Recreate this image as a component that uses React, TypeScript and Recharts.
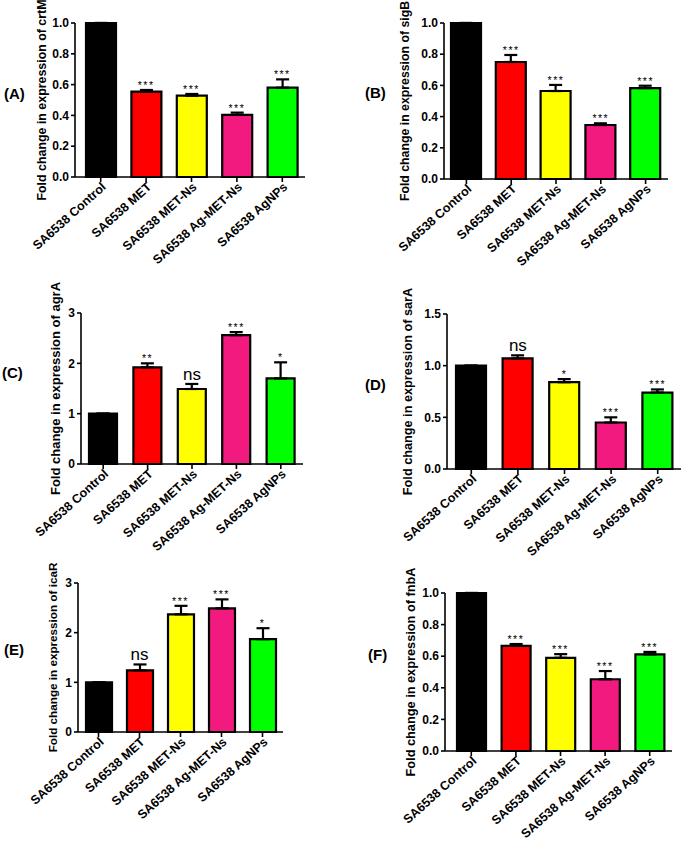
import React from "react";
import { Bar, Cell, ComposedChart, ErrorBar, Line, XAxis, YAxis } from "recharts";

// groups (x categories), shared by all six panels
const CATEGORIES = [
  "SA6538 Control",
  "SA6538 MET",
  "SA6538 MET-Ns",
  "SA6538 Ag-MET-Ns",
  "SA6538 AgNPs",
];
const BAR_COLORS = ["#000000", "#FF0000", "#FFFF00", "#F2197F", "#00FF00"];

// (A) crtM
const CRTM_MEAN = [1.0, 0.554, 0.528, 0.403, 0.58];
const CRTM_SD = [0, 0.011, 0.011, 0.015, 0.054];
const CRTM_SIG = ["", "***", "***", "***", "***"];
const CRTM_TICKS = [0, 0.2, 0.4, 0.6, 0.8, 1.0];

// (B) sigB
const SIGB_MEAN = [1.0, 0.75, 0.564, 0.346, 0.583];
const SIGB_SD = [0, 0.045, 0.039, 0.011, 0.015];
const SIGB_SIG = ["", "***", "***", "***", "***"];
const SIGB_TICKS = [0, 0.2, 0.4, 0.6, 0.8, 1.0];

// (C) agrA
const AGRA_MEAN = [1.0, 1.92, 1.49, 2.56, 1.7];
const AGRA_SD = [0, 0.08, 0.1, 0.06, 0.32];
const AGRA_SIG = ["", "**", "ns", "***", "*"];
const AGRA_TICKS = [0, 1, 2, 3];

// (D) sarA
const SARA_MEAN = [1.0, 1.07, 0.84, 0.45, 0.74];
const SARA_SD = [0, 0.03, 0.03, 0.05, 0.03];
const SARA_SIG = ["", "ns", "*", "***", "***"];
const SARA_TICKS = [0, 0.5, 1.0, 1.5];

// (E) icaR
const ICAR_MEAN = [1.0, 1.24, 2.37, 2.49, 1.87];
const ICAR_SD = [0, 0.12, 0.17, 0.18, 0.22];
const ICAR_SIG = ["", "ns", "***", "***", "*"];
const ICAR_TICKS = [0, 1, 2, 3];

// (F) fnbA
const FNBA_MEAN = [1.0, 0.665, 0.59, 0.454, 0.612];
const FNBA_SD = [0, 0.012, 0.023, 0.052, 0.015];
const FNBA_SIG = ["", "***", "***", "***", "***"];
const FNBA_TICKS = [0, 0.2, 0.4, 0.6, 0.8, 1.0];

const FONT = '"Liberation Sans", Arial, sans-serif';
const YW = 75; // y axis width (wide so the rotated labels are not clipped)
const MT = 36; // top margin, leaves room for the long y titles
const MR = 4;
const XH = 100; // x axis height (rotated labels)

const PANELS = [
  { tag: "(A)", gene: "crtM", mean: CRTM_MEAN, sd: CRTM_SD, sig: CRTM_SIG, ticks: CRTM_TICKS, digits: 1,
    plotLeft: 75, plotTop: 23, plotRight: 305, plotBottom: 177, padL: 3, padR: 0, barSize: 30,
    titleX: 42, titleSize: 12.4, tagX: 4, tagY: 94 },
  { tag: "(B)", gene: "sigB", mean: SIGB_MEAN, sd: SIGB_SD, sig: SIGB_SIG, ticks: SIGB_TICKS, digits: 1,
    plotLeft: 444, plotTop: 23, plotRight: 668, plotBottom: 179, padL: 0, padR: 0, barSize: 30,
    titleX: 405, titleSize: 12.3, tagX: 365, tagY: 93 },
  { tag: "(C)", gene: "agrA", mean: AGRA_MEAN, sd: AGRA_SD, sig: AGRA_SIG, ticks: AGRA_TICKS, digits: 0,
    plotLeft: 81, plotTop: 313, plotRight: 303, plotBottom: 464, padL: 0, padR: 0, barSize: 28,
    titleX: 55, titleSize: 13, tagX: 2, tagY: 373 },
  { tag: "(D)", gene: "sarA", mean: SARA_MEAN, sd: SARA_SD, sig: SARA_SIG, ticks: SARA_TICKS, digits: 1,
    plotLeft: 447, plotTop: 314, plotRight: 681, plotBottom: 469, padL: 1, padR: 0, barSize: 30,
    titleX: 408, titleSize: 12.7, tagX: 365, tagY: 385 },
  { tag: "(E)", gene: "icaR", mean: ICAR_MEAN, sd: ICAR_SD, sig: ICAR_SIG, ticks: ICAR_TICKS, digits: 0,
    plotLeft: 78, plotTop: 583, plotRight: 283, plotBottom: 732, padL: 0, padR: 0, barSize: 26,
    titleX: 52, titleSize: 11.7, tagX: 4, tagY: 650 },
  { tag: "(F)", gene: "fnbA", mean: FNBA_MEAN, sd: FNBA_SD, sig: FNBA_SIG, ticks: FNBA_TICKS, digits: 1,
    plotLeft: 445, plotTop: 593, plotRight: 672, plotBottom: 751, padL: 4, padR: 0, barSize: 29,
    titleX: 410, titleSize: 12.75, tagX: 368, tagY: 655 },
];

function CategoryTick(props: any) {
  const { x, y, payload } = props;
  const ax = x + 6;
  const ay = y + 4;
  return (
    <text
      x={ax}
      y={ay}
      transform={`rotate(-42 ${ax} ${ay})`}
      textAnchor="end"
      fontFamily={FONT}
      fontWeight="bold"
      fontSize={12.5}
      fill="#000"
    >
      {payload.value}
    </text>
  );
}

function SigDot(props: any) {
  const { cx, cy, payload, index } = props;
  if (!payload || !payload.sig || cx == null || cy == null) return <g key={index} />;
  const ns = payload.sig === "ns";
  return (
    <text
      key={index}
      x={cx}
      y={ns ? cy - 4 : cy - 1}
      textAnchor="middle"
      fontFamily={FONT}
      fontSize={ns ? 17 : 10.5}
      letterSpacing={ns ? 0 : 1.5}
      fill="#000"
    >
      {payload.sig}
    </text>
  );
}

function Panel({ p }: { p: (typeof PANELS)[number] }) {
  const data = CATEGORIES.map((name, i) => ({
    name,
    mean: p.mean[i],
    sd: [0, p.sd[i]],
    top: p.mean[i] + p.sd[i],
    sig: p.sig[i],
  }));
  const left = p.plotLeft - YW;
  const top = p.plotTop - MT;
  const width = p.plotRight - left + MR;
  const height = p.plotBottom - top + XH;
  const max = p.ticks[p.ticks.length - 1];
  const titleOffset = p.titleX - left;

  return (
    <>
      <div
        style={{
          position: "absolute",
          left: p.tagX,
          top: p.tagY - 9,
          fontFamily: FONT,
          fontWeight: "bold",
          fontSize: 15,
          lineHeight: "18px",
        }}
      >
        {p.tag}
      </div>
      <div style={{ position: "absolute", left, top }}>
        <ComposedChart
          width={width}
          height={height}
          data={data}
          margin={{ top: MT, right: MR, left: 0, bottom: 0 }}
        >
          <XAxis
            dataKey="name"
            height={XH}
            interval={0}
            tick={<CategoryTick />}
            tickSize={5}
            padding={{ left: p.padL, right: p.padR }}
            axisLine={{ stroke: "#000", strokeWidth: 1.6 }}
            tickLine={{ stroke: "#000", strokeWidth: 1.6 }}
          />
          <YAxis
            width={YW}
            domain={[0, max]}
            ticks={p.ticks}
            interval={0}
            tickSize={4}
            tickMargin={2}
            tickFormatter={(v) => Number(v).toFixed(p.digits)}
            tick={{ fontFamily: FONT, fontWeight: "bold", fontSize: 12, fill: "#000" }}
            axisLine={{ stroke: "#000", strokeWidth: 1.6 }}
            tickLine={{ stroke: "#000", strokeWidth: 1.6 }}
            label={{
              content: (lp: any) => {
                const vb = lp.viewBox || {};
                const tx = (vb.x ?? 0) + titleOffset;
                const ty = (vb.y ?? 0) + (vb.height ?? 0) / 2;
                return (
                  <text
                    x={tx}
                    y={ty}
                    transform={`rotate(-90 ${tx} ${ty})`}
                    textAnchor="middle"
                    dominantBaseline="central"
                    fontFamily={FONT}
                    fontWeight="bold"
                    fontSize={p.titleSize}
                    fill="#000"
                  >
                    {`Fold change in expression of ${p.gene}`}
                  </text>
                );
              },
            }}
          />
          <Bar
            dataKey="mean"
            barSize={p.barSize}
            stroke="#000"
            strokeWidth={2.2}
            isAnimationActive={false}
          >
            {data.map((_, i) => (
              <Cell key={i} fill={BAR_COLORS[i]} />
            ))}
            <ErrorBar
              dataKey="sd"
              width={6.5}
              stroke="#000"
              strokeWidth={2.2}
              isAnimationActive={false}
            />
          </Bar>
          <Line
            dataKey="top"
            stroke="none"
            dot={(dp: any) => <SigDot {...dp} />}
            activeDot={false}
            legendType="none"
            isAnimationActive={false}
          />
        </ComposedChart>
      </div>
    </>
  );
}

export default function App() {
  return (
    <div
      style={{
        position: "absolute",
        left: 0,
        top: 0,
        width: 685,
        height: 844,
        background: "#fff",
        overflow: "hidden",
      }}
    >
      {PANELS.map((p) => (
        <Panel key={p.tag} p={p} />
      ))}
    </div>
  );
}
